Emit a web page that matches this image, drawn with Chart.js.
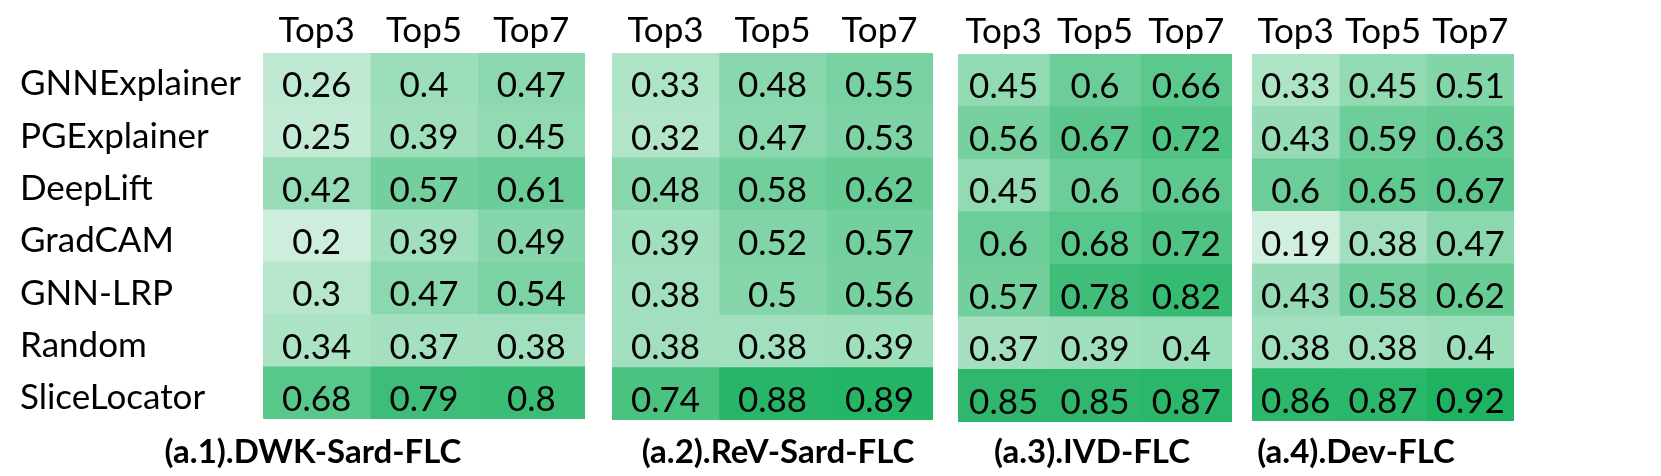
<!DOCTYPE html>
<html>
<head>
<meta charset="utf-8">
<script src="https://cdn.jsdelivr.net/npm/chart.js@4.4.1/dist/chart.umd.min.js"></script>
<style>
  html, body { margin: 0; padding: 0; background: #fff; }
  #wrap { position: relative; width: 1661px; height: 476px; overflow: hidden; }
  #wrap canvas { position: absolute; left: 0; top: 0; }
</style>
</head>
<body>
<div id="wrap">
  <canvas id="p1" width="1661" height="476"></canvas>
  <canvas id="p2" width="1661" height="476"></canvas>
  <canvas id="p3" width="1661" height="476"></canvas>
  <canvas id="p4" width="1661" height="476"></canvas>
</div>
<script>
// data
const methods = ['GNNExplainer', 'PGExplainer', 'DeepLift', 'GradCAM', 'GNN-LRP', 'Random', 'SliceLocator'];
const topK = ['Top3', 'Top5', 'Top7'];

// (a.1) DWK-Sard-FLC
const dwkTop3 = [0.26, 0.25, 0.42, 0.2, 0.3, 0.34, 0.68];
const dwkTop5 = [0.4, 0.39, 0.57, 0.39, 0.47, 0.37, 0.79];
const dwkTop7 = [0.47, 0.45, 0.61, 0.49, 0.54, 0.38, 0.8];

// (a.2) ReV-Sard-FLC
const revTop3 = [0.33, 0.32, 0.48, 0.39, 0.38, 0.38, 0.74];
const revTop5 = [0.48, 0.47, 0.58, 0.52, 0.5, 0.38, 0.88];
const revTop7 = [0.55, 0.53, 0.62, 0.57, 0.56, 0.39, 0.89];

// (a.3) IVD-FLC
const ivdTop3 = [0.45, 0.56, 0.45, 0.6, 0.57, 0.37, 0.85];
const ivdTop5 = [0.6, 0.67, 0.6, 0.68, 0.78, 0.39, 0.85];
const ivdTop7 = [0.66, 0.72, 0.66, 0.72, 0.82, 0.4, 0.87];

// (a.4) Dev-FLC
const devTop3 = [0.33, 0.43, 0.6, 0.19, 0.43, 0.38, 0.86];
const devTop5 = [0.45, 0.59, 0.65, 0.38, 0.58, 0.38, 0.87];
const devTop7 = [0.51, 0.63, 0.67, 0.47, 0.62, 0.4, 0.92];

const captions = ['(a.1).DWK-Sard-FLC', '(a.2).ReV-Sard-FLC', '(a.3).IVD-FLC', '(a.4).Dev-FLC'];

// colour scale white -> green
function heat(v) {
  const r = Math.round(255 - v * 245);
  const g = Math.round(255 - v * 83);
  const b = Math.round(255 - v * 172);
  return 'rgb(' + r + ',' + g + ',' + b + ')';
}

// values written in the cells
const cellText = {
  id: 'cellText',
  afterDatasetsDraw(chart) {
    const ctx = chart.ctx;
    ctx.save();
    ctx.font = '35px Lato';
    ctx.fillStyle = '#000';
    ctx.textAlign = 'center';
    ctx.textBaseline = 'alphabetic';
    chart.data.datasets.forEach((ds, i) => {
      chart.getDatasetMeta(i).data.forEach((bar, j) => {
        const p = bar.getProps(['x', 'y', 'base'], true);
        ctx.fillText(String(ds.data[j].v), (p.x + p.base) / 2, p.y + 18);
      });
    });
    ctx.restore();
  }
};

// bold caption under each panel
const caption = {
  id: 'caption',
  afterDraw(chart, args, opts) {
    const ctx = chart.ctx;
    ctx.save();
    ctx.font = 'bold 33px Lato';
    ctx.fillStyle = '#000';
    ctx.textAlign = 'center';
    ctx.textBaseline = 'alphabetic';
    ctx.fillText(opts.text, opts.x, opts.y);
    ctx.restore();
  }
};

function makePanel(id, cols, pad, headH, showNames, capText, capX) {
  return new Chart(document.getElementById(id), {
    type: 'bar',
    data: {
      labels: methods,
      datasets: cols.map((vals, c) => ({
        label: topK[c],
        data: vals.map((v, r) => ({ x: [c, c + 1], y: methods[r], v: v })),
        backgroundColor: ctx => heat(ctx.raw.v),
        borderWidth: 0,
        grouped: false,
        barPercentage: 1,
        categoryPercentage: 1
      }))
    },
    options: {
      indexAxis: 'y',
      responsive: false,
      animation: false,
      events: [],
      layout: { padding: pad },
      plugins: {
        legend: { display: false },
        tooltip: { enabled: false },
        caption: { text: capText, x: capX, y: 463 }
      },
      scales: {
        x: {
          type: 'linear',
          position: 'top',
          min: 0,
          max: 3,
          grid: { display: false, drawTicks: false },
          border: { display: false },
          afterBuildTicks: s => { s.ticks = topK.map((t, i) => ({ value: i + 0.5 })); },
          ticks: {
            callback: v => topK[Math.floor(v)],
            font: { family: 'Lato', size: 35 },
            color: '#000',
            padding: 1,
            maxRotation: 0,
            autoSkip: false
          },
          afterFit: s => { s.height = headH; }
        },
        y: {
          display: showNames,
          grid: { display: false, drawTicks: false },
          border: { display: false },
          ticks: {
            font: { family: 'Lato', size: 35 },
            color: '#000',
            crossAlign: 'far',
            labelOffset: 5
          },
          afterFit: s => { s.width = showNames ? 243 : 0; }
        }
      }
    },
    plugins: [cellText, caption]
  });
}

Promise.all([
  document.fonts.load('35px Lato'),
  document.fonts.load('bold 33px Lato')
]).then(() => {
  makePanel('p1', [dwkTop3, dwkTop5, dwkTop7], { left: 20, right: 1076, top: 0, bottom: 57 }, 53, true, captions[0], 313);
  makePanel('p2', [revTop3, revTop5, revTop7], { left: 612, right: 728, top: 0, bottom: 56 }, 53, false, captions[1], 778);
  makePanel('p3', [ivdTop3, ivdTop5, ivdTop7], { left: 958, right: 429, top: 0, bottom: 54 }, 54, false, captions[2], 1092);
  makePanel('p4', [devTop3, devTop5, devTop7], { left: 1252, right: 147, top: 0, bottom: 55 }, 54, false, captions[3], 1356);
});
</script>
</body>
</html>
